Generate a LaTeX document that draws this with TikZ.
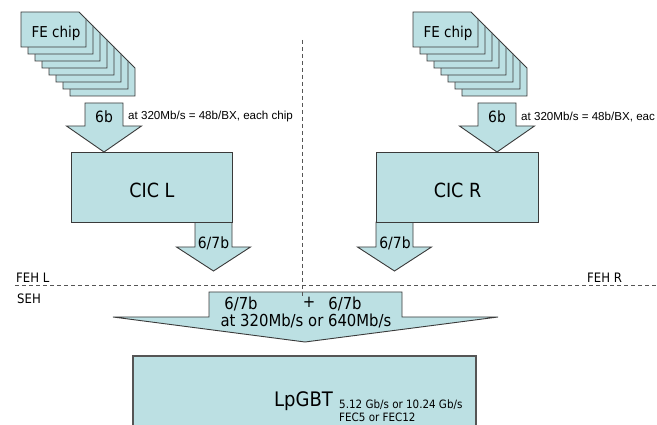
\documentclass[tikz,border=0pt]{standalone}
\usepackage{fontspec}
\setmainfont{DejaVu Sans Condensed}
\newfontfamily\notefont{Liberation Sans}
\definecolor{boxfill}{HTML}{BCE0E3}
\definecolor{boxline}{HTML}{3A3A3A}
\definecolor{sepline}{HTML}{555555}
\newcommand\fs[1]{\fontsize{#1}{#1}\selectfont}
\tikzset{
  blk/.style={fill=boxfill, draw=boxline, line width=0.9pt, line join=miter},
  sep/.style={draw=sepline, line width=0.9pt, dash pattern=on 4pt off 3pt},
  lbl/.style={inner sep=0pt, text=black},
  note/.style={inner sep=0pt, anchor=west, font=\notefont\fs{11.6}},
  side/.style={inner sep=0pt, anchor=base west, font=\fs{13}},
}
% one FE chip card with a snipped top-right corner; #1,#2 = top-left corner
\newcommand\fecard[2]{%
  \path[blk] (#1,#2) -- ++(58,0) -- ++(7,7) -- ++(0,28) -- ++(-65,0) -- cycle;}
% down block arrow: shaft left, shaft right, shaft top, head start, head half-width, tip y
\newcommand\blockdown[6]{%
  \path[blk] (#1,#3) -- (#2,#3) -- (#2,#4) -- ({(#1+#2)/2+#5},#4) -- ({(#1+#2)/2},#6)
    -- ({(#1+#2)/2-#5},#4) -- (#1,#4) -- cycle;}
\begin{document}
\begin{tikzpicture}[x=1pt, y=-1pt]
\useasboundingbox (0,0) rectangle (657,425);
\clip (0,0) rectangle (657,425);

% front-end chip stacks
\foreach \i in {7,6,...,0} {
  \fecard{21+7*\i}{12+7*\i}
  \fecard{413+7*\i}{12+7*\i}
}
\node[lbl, font=\fs{15}] (feL) at (56,33) {FE chip};
\node[lbl, font=\fs{15}] (feR) at (448,33) {FE chip};

% chip links into the concentrators
\blockdown{85}{123}{103}{126}{37.5}{152}
\blockdown{478}{516}{103}{126}{37.5}{152}
\node[lbl, font=\fs{15.5}] (sixL) at (104,117) {6b};
\node[lbl, font=\fs{15.5}] (sixR) at (497,117) {6b};
\node[note] (rateL) at (128,117) {at 320Mb/s = 48b/BX, each chip};
\node[note] (rateR) at (521,117) {at 320Mb/s = 48b/BX, eac};

% concentrator outputs
\blockdown{195}{232}{222}{247}{37}{271}
\blockdown{376}{413}{222}{247}{37}{271}

% concentrator chips
\node[blk, minimum width=161pt, minimum height=70pt, inner sep=0pt] (cicL) at (151.5,187) {};
\node[blk, minimum width=162pt, minimum height=70pt, inner sep=0pt] (cicR) at (457,187) {};
\node[lbl, font=\fs{19.5}] (cicLt) at (152,190) {CIC L};
\node[lbl, font=\fs{19.5}] (cicRt) at (457.5,190) {CIC R};
\node[lbl, font=\fs{15.5}] (outL) at (213.5,243.5) {6/7b};
\node[lbl, font=\fs{15.5}] (outR) at (395,243.5) {6/7b};

% merged link into the LpGBT
\path[blk] (209,292) -- (402,292) -- (402,317) -- (498,317) -- (305,342)
  -- (113,317) -- (209,317) -- cycle;
\node[lbl, font=\fs{16.5}] (mL) at (241,303.5) {6/7b};
\node[lbl, font=\fs{16.5}] (mP) at (309,302.5) {+};
\node[lbl, font=\fs{16.5}] (mR) at (345,303.5) {6/7b};
\node[lbl, font=\fs{16.5}] (mRate) at (306,321) {at 320Mb/s or 640Mb/s};

% LpGBT
\path[blk, draw=sepline, line width=1.3pt] (133,356) rectangle (476,445);
\node[lbl, font=\fs{20}] (lpgbt) at (303.5,401) {LpGBT};
\node[lbl, anchor=west, font=\fs{11.5}] (lpRate) at (339,405) {5.12 Gb/s or 10.24 Gb/s};
\node[lbl, anchor=west, font=\fs{11.5}] (lpFec) at (339,417.5) {FEC5 or FEC12};

% hybrid boundaries
\coordinate (vTop) at (302,40);
\coordinate (vBot) at (302,296);
\coordinate (hL) at (15,285);
\coordinate (hR) at (660,285);
\draw[sep] (vTop) -- (vBot);
\draw[sep] (hL) -- (hR);
\node[side] (fehL) at (16,282.5) {FEH L};
\node[side] (fehR) at (587,282.5) {FEH R};
\node[side] (seh) at (17,304) {SEH};
\end{tikzpicture}
\end{document}
